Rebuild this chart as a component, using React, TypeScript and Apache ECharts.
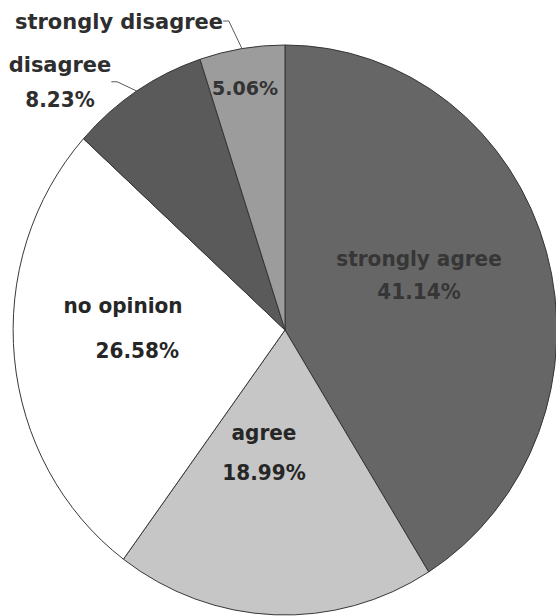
import { useEffect, useRef } from "react";
import * as echarts from "echarts";

// Survey response shares, in percent, clockwise from 12 o'clock
const categories = ["strongly agree", "agree", "no opinion", "disagree", "strongly disagree"];
const percentages = [41.14, 18.99, 26.58, 8.23, 5.06];

// Greyscale fill per slice
const sliceColors = ["#666666", "#c6c6c6", "#ffffff", "#5a5a5a", "#9c9c9c"];

// Pie centre on screen; the pie is drawn slightly narrower than tall
const CX = 285;
const CY = 330;
const SQUASH_X = 0.954;
// The chart canvas extends past the page on both sides so edge labels are not clipped
const PAD = 40;
const CANVAS_W = 556 + 2 * PAD;
// Convert an on-screen x into the chart canvas's unsquashed coordinate
const toChartX = (x: number) => CX + PAD + (x - CX) / SQUASH_X;

// Label block centres on screen (px), line spacing, and indent of the second line
const insideSpots: Record<number, { x: number; y: number; lh: number; pad: number; color: string }> = {
  0: { x: 419, y: 275, lh: 33, pad: 0, color: "#363636" },
  1: { x: 264, y: 453, lh: 40, pad: 0, color: "#262626" },
  2: { x: 123, y: 328, lh: 45, pad: 30, color: "#262626" },
  4: { x: 245, y: 88, lh: 22, pad: 0, color: "#333333" },
};
const outsideSpots: Record<number, { x: number; y: number; lh: number }> = {
  3: { x: 60, y: 82, lh: 36 },
  4: { x: 119, y: 21, lh: 22 },
};

const FONT = '"DejaVu Sans", Verdana, sans-serif';

export default function App() {
  const ref = useRef<HTMLDivElement>(null);

  useEffect(() => {
    if (!ref.current) return;
    const chart = echarts.init(ref.current, undefined, { renderer: "svg" });

    const pct = (v: number) => `${v.toFixed(2)}%`;

    const sliceData = categories.map((name, i) => {
      const spot = insideSpots[i];
      const base = {
        name,
        value: percentages[i],
        itemStyle: { color: sliceColors[i] },
      };
      if (!spot) return { ...base, label: { show: false } };
      const twoLine = i !== 4;
      const fontSize = twoLine ? 21 : 20;
      return {
        ...base,
        label: {
          show: true,
          formatter: twoLine ? `{n|${name}}\n{p|${pct(percentages[i])}}` : `{p|${pct(percentages[i])}}`,
          rich: {
            n: { fontFamily: FONT, fontWeight: "bold", fontSize, color: spot.color, lineHeight: spot.lh },
            p: {
              fontFamily: FONT,
              fontWeight: "bold",
              fontSize,
              color: spot.color,
              lineHeight: spot.lh,
              padding: [0, 0, 0, spot.pad],
            },
          },
        },
      };
    });

    const calloutData = categories.map((name, i) => {
      const spot = outsideSpots[i];
      const base = { name, value: percentages[i] };
      if (!spot) return { ...base, label: { show: false }, labelLine: { show: false } };
      const text = i === 3 ? `{n|${name}}\n{p|${pct(percentages[i])}}` : `{n|${name}}`;
      return {
        ...base,
        label: {
          show: true,
          formatter: text,
          rich: {
            n: { fontFamily: FONT, fontWeight: "bold", fontSize: 22, color: "#2e2e2e", lineHeight: spot.lh },
            p: { fontFamily: FONT, fontWeight: "bold", fontSize: 21, color: "#2e2e2e", lineHeight: spot.lh },
          },
        },
        labelLine: { show: true },
      };
    });

    chart.setOption({
      animation: false,
      backgroundColor: "#ffffff",
      series: [
        {
          type: "pie",
          center: [CX + PAD, CY],
          radius: 285,
          startAngle: 90,
          clockwise: true,
          silent: true,
          itemStyle: { borderColor: "#333333", borderWidth: 1 },
          label: { position: "inside", overflow: "none" },
          labelLine: { show: false },
          labelLayout: (params: any) => {
            const spot = insideSpots[params.dataIndex];
            if (!spot) return {};
            return { x: toChartX(spot.x), y: spot.y, align: "center", verticalAlign: "middle" };
          },
          data: sliceData,
        },
        {
          type: "pie",
          center: [CX + PAD, CY],
          radius: 285,
          startAngle: 90,
          clockwise: true,
          silent: true,
          z: 3,
          itemStyle: { color: "rgba(0,0,0,0)", borderWidth: 0 },
          label: { position: "outside", overflow: "none", edgeDistance: 0, bleedMargin: 0 },
          labelLine: {
            show: true,
            length: 8,
            length2: 6,
            lineStyle: { color: "#555555", width: 1 },
          },
          labelLayout: (params: any) => {
            const spot = outsideSpots[params.dataIndex];
            if (!spot) return {};
            return { x: toChartX(spot.x), y: spot.y, align: "center", verticalAlign: "middle" };
          },
          data: calloutData,
        },
      ],
    });

    return () => chart.dispose();
  }, []);

  return (
    <div style={{ position: "fixed", left: 0, top: 0, width: 556, height: 616, overflow: "hidden", background: "#ffffff" }}>
      <div
        ref={ref}
        style={{
          position: "absolute",
          left: -PAD,
          top: 0,
          width: CANVAS_W,
          height: 616,
          transform: `scaleX(${SQUASH_X})`,
          transformOrigin: `${CX + PAD}px 0`,
        }}
      />
    </div>
  );
}
